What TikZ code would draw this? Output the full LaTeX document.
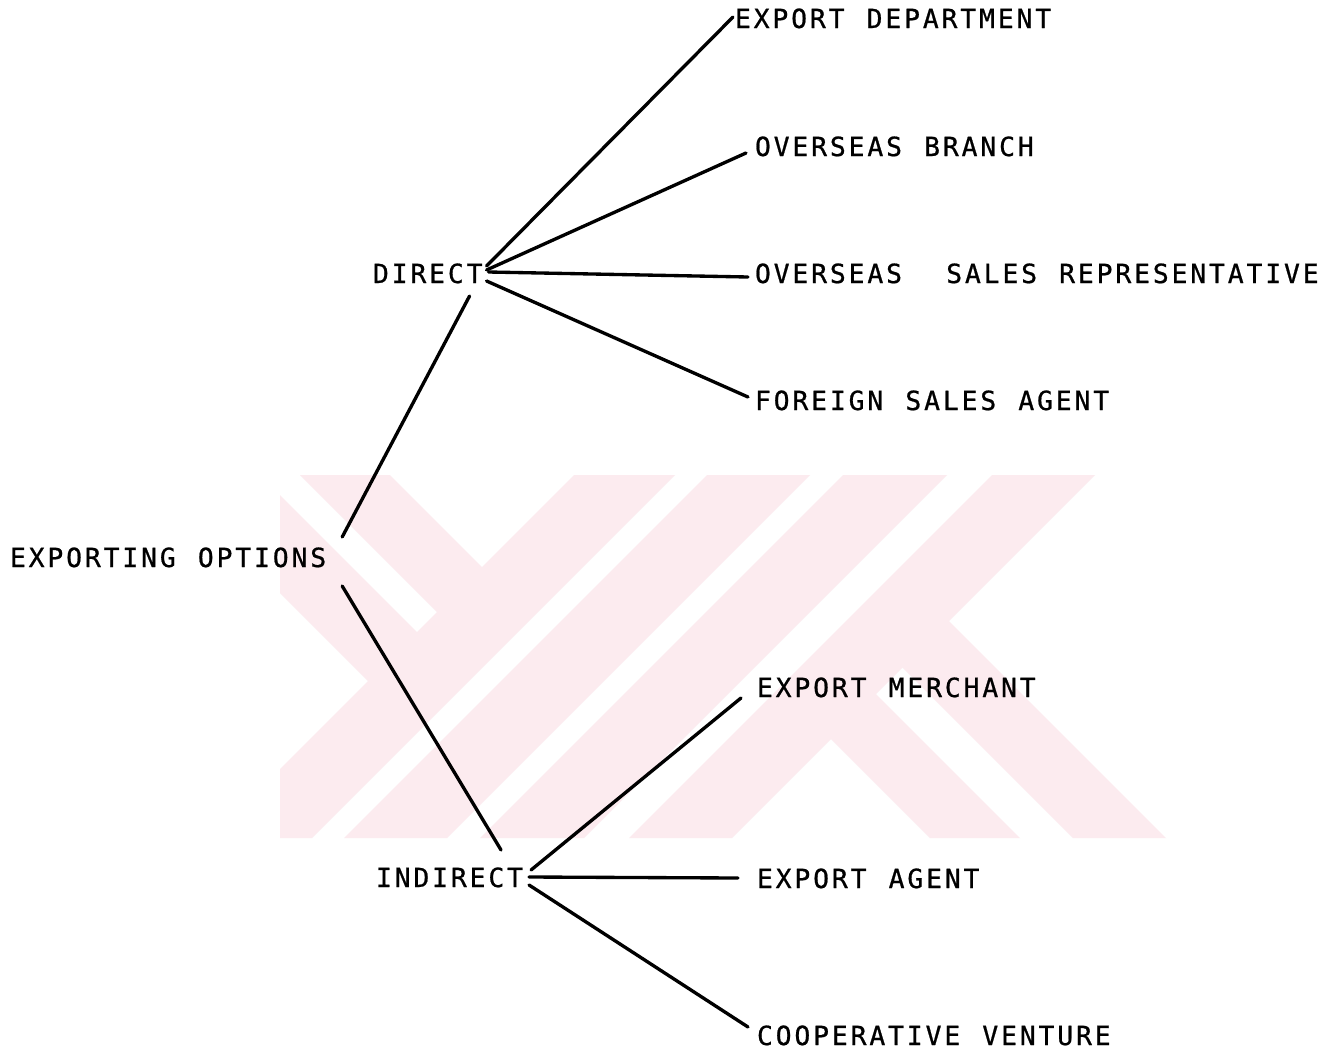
\documentclass[tikz,border=0pt]{standalone}
\usepackage{fontspec}
\newfontfamily\plotfont{DejaVu Sans Mono}[LetterSpace=10.9,WordSpace=1.18,FakeBold=0.8]
\usetikzlibrary{calc}
\definecolor{wm}{RGB}{252,235,239}
\tikzset{
  lbl/.style={font={\plotfont\fontsize{15pt}{17pt}\selectfont}, inner sep=0pt, outer sep=0pt, anchor=base west, text=black},
  conn/.style={line width=1.9pt, line cap=round, draw=black},
  mark band/.style={fill=wm, draw=none}
}
\begin{document}
\begin{tikzpicture}[x=0.02cm,y=-0.02cm]
\useasboundingbox (0,0) rectangle (1343,1052);
\fill[white] (0,0) rectangle (1343,1052);
% faint watermark
\begin{scope}
\clip (280,475) rectangle (1170,838);
\fill[mark band] (574,475) -- (675,475) -- (312,838) -- (211,838) -- cycle;
\fill[mark band] (707,475) -- (810,475) -- (447,838) -- (344,838) -- cycle;
\fill[mark band] (843,475) -- (947,475) -- (584,838) -- (480,838) -- cycle;
\fill[mark band] (992,475) -- (1095,475) -- (732,838) -- (629,838) -- cycle;
\fill[mark band] (162,475) -- (260,475) -- (442.5,657.5) -- (393.5,706.5) -- cycle;
\fill[mark band] (300,475) -- (390,475) -- (507.5,592.5) -- (462.5,637.5) -- cycle;
\fill[mark band] (826,734) -- (871,689) -- (1020,838) -- (930,838) -- cycle;
\fill[mark band] (897.5,662.5) -- (944,616) -- (1166,838) -- (1073,838) -- cycle;
\end{scope}
% labels
\node[lbl] (opt) at (10,567) {EXPORTING OPTIONS};
\node[lbl] (dir) at (373,283) {DIRECT};
\node[lbl] (ind) at (376,887) {INDIRECT};
\node[lbl] (ed)  at (735,28) {EXPORT DEPARTMENT};
\node[lbl] (ob)  at (755,156) {OVERSEAS BRANCH};
\node[lbl] (osr) at (755,283) {OVERSEAS\ \ SALES REPRESENTATIVE};
\node[lbl] (fsa) at (755,410) {FOREIGN SALES AGENT};
\node[lbl] (em)  at (757,697) {EXPORT MERCHANT};
\node[lbl] (ea)  at (757,888) {EXPORT AGENT};
\node[lbl] (cv)  at (757,1045) {COOPERATIVE VENTURE};
% connectors
\draw[conn] ($(dir.base east)+(4,-17)$) -- ($(ed.base west)+(-2,-11)$);
\draw[conn] ($(dir.base east)+(4,-13)$) -- ($(ob.base west)+(-9,-3)$);
\draw[conn] ($(dir.base east)+(6,-11)$) -- ($(osr.base west)+(-7,-6)$);
\draw[conn] ($(dir.base east)+(4,-2)$) -- ($(fsa.base west)+(-7,-13)$);
\draw[conn] ($(dir.base east)+(-13,13)$) -- ($(opt.base east)+(16,-30)$);
\draw[conn] ($(opt.base east)+(16,19)$) -- ($(ind.base east)+(-22,-37)$);
\draw[conn] ($(ind.base east)+(8,-17)$) -- ($(em.base west)+(-16,1)$);
\draw[conn] ($(ind.base east)+(6,-10)$) -- ($(ea.base west)+(-19,-10)$);
\draw[conn] ($(ind.base east)+(6,-2)$) -- ($(cv.base west)+(-9,-18)$);
\end{tikzpicture}
\end{document}
